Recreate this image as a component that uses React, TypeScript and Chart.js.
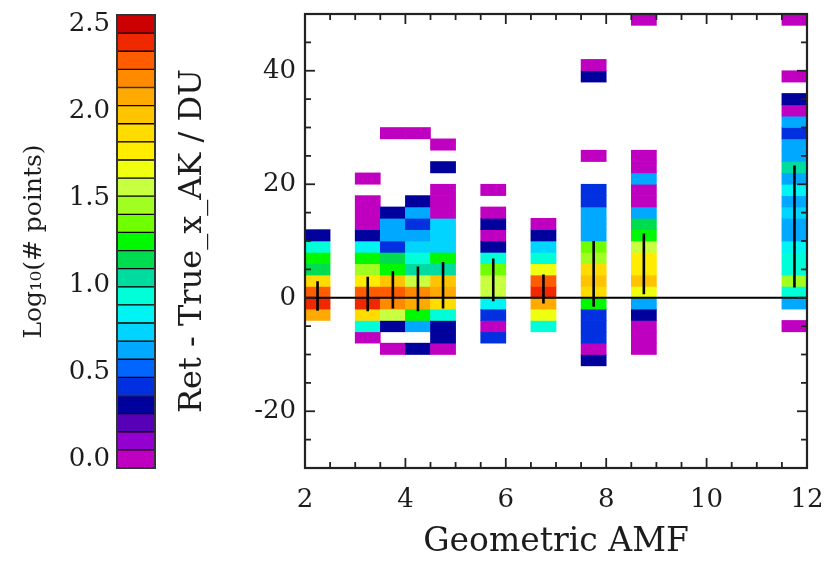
import React, { useEffect, useRef } from "react";
import { Chart, registerables } from "chart.js";

Chart.register(...registerables);

// ---- colour scale: 25 levels of log10(# points) from 0.0 to 2.5 ----
const levelColours = [
  "#c000c0", "#9400d0", "#5800b8", "#00009c", "#0030e0",
  "#0066ff", "#00a8ff", "#00d4ff", "#00f4f4", "#00ffd8",
  "#00dca0", "#00dc50", "#00f800", "#70ff00", "#a0ff20",
  "#c8ff40", "#f0ff10", "#ffec00", "#ffdc00", "#ffc400",
  "#ffaa00", "#ff8a00", "#ff5c00", "#f02800", "#cc0000",
];
const colourBarTicks = [0, 0.5, 1.0, 1.5, 2.0, 2.5];
const LEVEL_MAX = 2.5;
const LEVEL_STEP = LEVEL_MAX / (levelColours.length - 1);

// ---- axes ----
const xTickValues = [2, 4, 6, 8, 10, 12];
const yTickValues = [-20, 0, 20, 40];
const X_MIN = 2, X_MAX = 12, Y_MIN = -30, Y_MAX = 50;

// ---- histogram: geometric AMF bins (0.5 wide) x 2-DU difference bins ----
const amfCentres = [2.25, 3.25, 3.75, 4.25, 4.75, 5.75, 6.75, 7.75, 8.75, 11.75];
// lower edge (DU) of the first bin listed for each AMF column
const firstBinDU = [-4, -8, -10, -10, -10, -8, -6, -12, -10, -6];
const BIN_DU = 2;

// log10(# points) per 2-DU bin, lowest bin first; null = empty bin
const col225 = [2.08, 2.40, 2.29, 1.88, 1.15, 1.25, 0.94, 0.31];
const col325 = [0.00, 0.94, 1.88, 2.40, 2.29, 1.77, 1.46, 1.25, 0.83, 0.31, 0.00, 0.00, 0.00, null, 0.00];
const col375 = [0.00, null, 0.31, 1.56, 2.19, 2.29, 1.98, 1.25, 1.15, 0.42, 0.63, 0.63, 0.31, null, null, null, null, null, null, 0.00];
const col425 = [0.31, null, 0.63, 1.25, 2.08, 2.19, 1.56, 1.04, 0.94, 0.73, 0.63, 0.42, 0.63, 0.31, null, null, null, null, null, 0.00];
const col475 = [0.00, 0.31, 0.31, 0.94, 1.88, 2.08, 1.98, 1.04, 1.25, 0.73, 0.73, 0.73, 0.00, 0.00, 0.00, null, 0.31, null, 0.00];
const col575 = [0.42, 0.00, 0.42, 0.83, 1.56, 1.56, 1.35, 0.94, 0.31, 0.00, 0.31, 0.00, null, 0.00];
const col675 = [0.94, 1.67, 2.08, 2.40, 2.29, 1.67, 0.94, 0.73, 0.31, 0.00];
const col775 = [0.31, 0.00, 0.42, 0.42, 0.42, 1.25, 1.88, 1.98, 1.88, 1.46, 1.35, 0.63, 0.63, 0.63, 0.42, 0.42, null, null, 0.00, null, null, null, null, null, null, 0.31, 0.00];
const col875 = [0.00, 0.00, 0.00, 0.31, 0.63, 1.67, 1.98, 1.77, 1.77, 1.56, 1.25, 1.15, 0.63, 0.00, 0.00, 0.63, 0.00, 0.00, null, null, null, null, null, null, null, null, null, null, null, 0.00];
const col1175 = [0.00, null, 0.63, 0.94, 1.46, 0.94, 0.94, 0.83, 0.63, 0.63, 0.73, 0.63, 0.83, 0.63, 1.04, 0.63, 0.63, 0.42, 0.63, 0.00, 0.31, null, 0.00, null, null, null, null, 0.00];
const columns = [col225, col325, col375, col425, col475, col575, col675, col775, col875, col1175];

// spread of the differences in each AMF column (DU)
const errLowDU = [-2.3, -2.4, -1.9, -2.4, -1.9, -0.6, -1.0, -1.6, 0.6, 1.8];
const errHighDU = [2.9, 3.7, 4.7, 5.5, 6.3, 6.9, 4.1, 10.0, 11.3, 23.3];

const FONT = "'DejaVu Serif', serif";
const INK = "#1c1c1c";

function colourFor(v: number): string {
  const i = Math.max(0, Math.min(levelColours.length - 1, Math.round(v / LEVEL_STEP)));
  return levelColours[i];
}

// frame with inward major/minor ticks on all four sides
const plotFrame = {
  id: "plotFrame",
  afterDraw(chart: any) {
    const { ctx, chartArea: a, scales } = chart;
    const xs = scales.x, ys = scales.y;
    ctx.save();
    ctx.strokeStyle = "#222";
    ctx.lineWidth = 1.8;
    const seg = (x1: number, y1: number, x2: number, y2: number) => {
      ctx.beginPath();
      ctx.moveTo(x1, y1);
      ctx.lineTo(x2, y2);
      ctx.stroke();
    };
    for (let v = X_MIN; v <= X_MAX + 1e-9; v += 0.5) {
      const px = xs.getPixelForValue(v);
      const len = Math.abs(v % 2) < 1e-9 ? 10 : 6;
      seg(px, a.bottom, px, a.bottom - len);
      seg(px, a.top, px, a.top + len);
    }
    for (let v = Y_MIN; v <= Y_MAX; v += 5) {
      const py = ys.getPixelForValue(v);
      const len = v % 20 === 0 ? 10 : 6;
      seg(a.left, py, a.left + len, py);
      seg(a.right, py, a.right - len, py);
    }
    ctx.lineWidth = 2.2;
    ctx.strokeRect(a.left, a.top, a.right - a.left, a.bottom - a.top);
    ctx.restore();
  },
};

const barFrame = {
  id: "barFrame",
  afterDraw(chart: any) {
    const { ctx, chartArea: a } = chart;
    ctx.save();
    ctx.strokeStyle = "#333";
    ctx.lineWidth = 2;
    ctx.strokeRect(a.left, a.top, a.right - a.left, a.bottom - a.top);
    ctx.restore();
  },
};

export default function App() {
  const mainRef = useRef<HTMLCanvasElement | null>(null);
  const barRef = useRef<HTMLCanvasElement | null>(null);

  useEffect(() => {
    if (!mainRef.current || !barRef.current) return;

    // histogram cells
    const cells: any[] = [];
    const cellColours: string[] = [];
    columns.forEach((col, c) => {
      col.forEach((v, k) => {
        if (v === null) return;
        const lo = firstBinDU[c] + k * BIN_DU;
        cells.push({ x: amfCentres[c], y: [lo, lo + BIN_DU] });
        cellColours.push(colourFor(v));
      });
    });

    // vertical spread bars
    const spread: any[] = [];
    amfCentres.forEach((x, i) => {
      spread.push({ x, y: errLowDU[i] }, { x, y: errHighDU[i] }, { x, y: null });
    });

    const main = new Chart(mainRef.current, {
      type: "bar",
      data: {
        datasets: [
          {
            type: "line",
            data: spread,
            borderColor: "#000",
            borderWidth: 2.6,
            pointRadius: 0,
            spanGaps: false,
            order: 0,
          } as any,
          {
            type: "line",
            data: [{ x: X_MIN, y: 0 }, { x: X_MAX, y: 0 }],
            borderColor: "#000",
            borderWidth: 2,
            pointRadius: 0,
            order: 0,
          } as any,
          {
            type: "bar",
            data: cells,
            backgroundColor: cellColours,
            borderWidth: 0,
            barPercentage: 1,
            categoryPercentage: 1,
            grouped: false,
            order: 1,
          } as any,
        ],
      },
      options: {
        animation: false,
        responsive: false,
        maintainAspectRatio: false,
        events: [],
        layout: { padding: { left: 160, right: 19, top: 14, bottom: 0 } },
        plugins: { legend: { display: false }, tooltip: { enabled: false } },
        scales: {
          x: {
            type: "linear",
            min: X_MIN,
            max: X_MAX,
            offset: false,
            grid: { display: false, drawTicks: false },
            border: { display: false },
            afterBuildTicks: (s: any) => {
              s.ticks = xTickValues.map((value) => ({ value }));
            },
            afterFit: (s: any) => {
              s.height = 94;
              s.paddingLeft = 0;
              s.paddingRight = 0;
            },
            ticks: {
              padding: 17,
              maxRotation: 0,
              color: INK,
              font: { family: FONT, size: 26 },
              callback: (v: any) => String(v),
            },
            title: {
              display: true,
              text: "Geometric AMF",
              color: INK,
              font: { family: FONT, size: 33 },
              padding: { top: 0, bottom: 0 },
            },
          },
          y: {
            type: "linear",
            min: Y_MIN,
            max: Y_MAX,
            grid: { display: false, drawTicks: false },
            border: { display: false },
            afterBuildTicks: (s: any) => {
              s.ticks = yTickValues.map((value) => ({ value }));
            },
            afterFit: (s: any) => {
              s.width = 145;
              s.paddingTop = 0;
              s.paddingBottom = 0;
            },
            ticks: {
              padding: 9,
              color: INK,
              font: { family: FONT, size: 26 },
              callback: (v: any) => String(v),
            },
            title: {
              display: true,
              text: "Ret - True_x_AK / DU",
              color: INK,
              font: { family: FONT, size: 32 },
              padding: { top: 13, bottom: 0 },
            },
          },
        },
      },
      plugins: [plotFrame],
    } as any);

    // colour bar: one floating bar per level
    const levelDatasets = levelColours.map((colour, i) => {
      const centre = i * LEVEL_STEP;
      return {
        data: [[centre - LEVEL_STEP / 2, centre + LEVEL_STEP / 2]],
        backgroundColor: colour,
        borderColor: "#000",
        borderWidth: 1,
        borderSkipped: false,
        barPercentage: 1,
        categoryPercentage: 1,
        grouped: false,
      } as any;
    });

    const bar = new Chart(barRef.current, {
      type: "bar",
      data: { labels: ["log10"], datasets: levelDatasets },
      options: {
        animation: false,
        responsive: false,
        maintainAspectRatio: false,
        events: [],
        layout: { padding: { left: 0, right: 15, top: 15, bottom: 94 } },
        plugins: { legend: { display: false }, tooltip: { enabled: false } },
        scales: {
          x: { display: false },
          y: {
            type: "linear",
            min: -LEVEL_STEP / 2,
            max: LEVEL_MAX + LEVEL_STEP / 2,
            grid: { display: false, drawTicks: false },
            border: { display: false },
            afterBuildTicks: (s: any) => {
              s.ticks = colourBarTicks.map((value) => ({ value }));
            },
            afterFit: (s: any) => {
              s.width = 117;
              s.paddingTop = 0;
              s.paddingBottom = 0;
            },
            ticks: {
              padding: 7,
              color: INK,
              font: { family: FONT, size: 26 },
              callback: (v: any) => Number(v).toFixed(1),
            },
            title: {
              display: true,
              text: "Log\u2081\u2080(# points)",
              color: INK,
              font: { family: FONT, size: 25 },
              padding: { top: 19, bottom: 0 },
            },
          },
        },
      },
      plugins: [barFrame],
    } as any);

    return () => {
      main.destroy();
      bar.destroy();
    };
  }, []);

  return (
    <div style={{ position: "absolute", left: 0, top: 0, width: 826, height: 562, background: "#fff" }}>
      <canvas ref={mainRef} width={826} height={562} style={{ position: "absolute", left: 0, top: 0 }} />
      <canvas ref={barRef} width={170} height={562} style={{ position: "absolute", left: 0, top: 0 }} />
    </div>
  );
}
